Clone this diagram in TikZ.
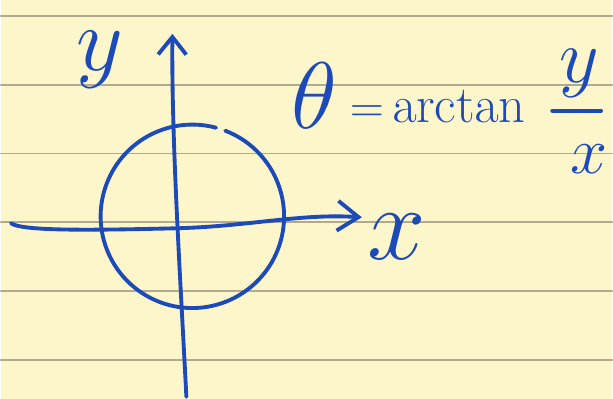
\RequirePackage{fix-cm}
\documentclass[tikz,border=0pt]{standalone}
\usepackage{amsmath}
\usetikzlibrary{arrows.meta}
\definecolor{ink}{RGB}{28,74,184}
\definecolor{paper}{RGB}{252,246,202}
\definecolor{rule}{RGB}{178,170,142}

\begin{document}
\begin{tikzpicture}[x=0.02cm, y=-0.02cm, line cap=round, line join=round,
    pen/.style={ink, line width=2.2pt},
    hand/.style={text=ink, inner sep=0pt}]
        % ruled paper
        \fill[paper] (0,0) rectangle (613,400);
        \foreach \ly in {16,85,154,223,292,361}
          \draw[rule, line width=1.1pt] (0,\ly) -- (613,\ly);
        % axes
        \coordinate (xtail) at (10,224);
        \coordinate (xhead) at (362,218);
        \coordinate (ytail) at (186,398);
        \coordinate (yhead) at (172,34);
        \coordinate (o) at (176,229);
        \draw[pen, -{Straight Barb[length=12pt, width=17pt]}]
          (xtail) .. controls (22,232) and (90,231) .. (o)
          .. controls (250,227) and (300,214) .. (xhead);
        \draw[pen, -{Straight Barb[length=10pt, width=16pt]}]
          (ytail) .. controls (180,280) and (171,140) .. (yhead);
        % unit circle, open at the top
        \coordinate (c) at (192,217);
        \draw[pen] (c) ++(-69:92) arc[start angle=-69, end angle=285, radius=92];
        % axis labels
        \node[hand, font=\fontsize{52}{52}\selectfont] (ylab) at (99,60) {$y$};
        \node[hand, font=\fontsize{60}{60}\selectfont] (xlab) at (397,238) {$x$};
        % formula
        \node[hand, font=\fontsize{54}{54}\selectfont] (theta) at (314,96) {$\theta$};
        \node[hand, font=\fontsize{27}{27}\selectfont] (eq) at (367,114) {$=$};
        \node[hand, font=\fontsize{30}{30}\selectfont, anchor=base west] (arctan) at (392,123) {$\arctan$};
        \node[hand, font=\fontsize{44}{44}\selectfont] (num) at (580,74) {$y$};
        \node[hand, font=\fontsize{38}{38}\selectfont] (den) at (590,160) {$x$};
        \coordinate (barl) at (553,111);
        \coordinate (barr) at (602,111);
        \draw[pen] (barl) -- (barr);
      \end{tikzpicture}
\end{document}
